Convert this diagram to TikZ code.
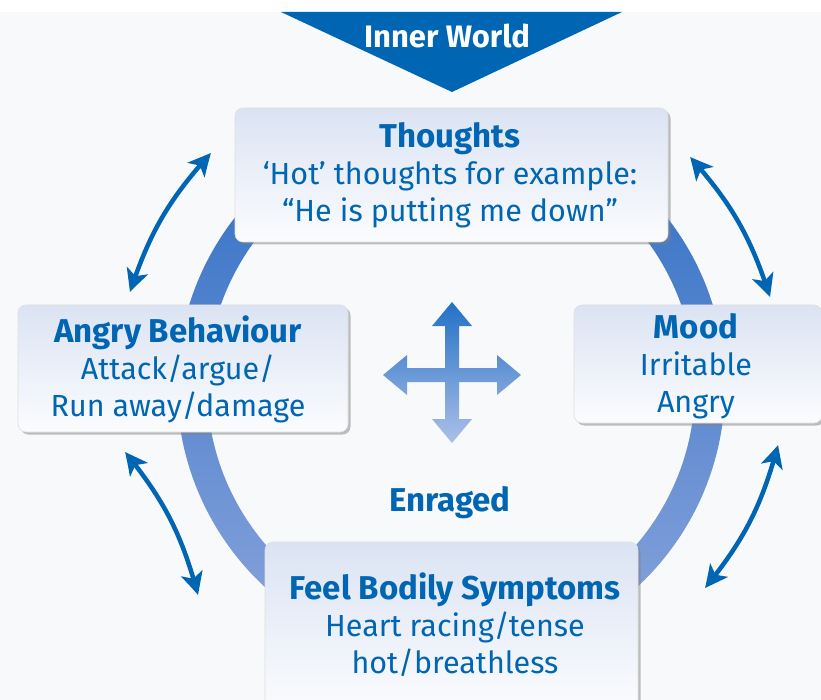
\documentclass[tikz,border=0pt]{standalone}
\usepackage{fontspec}
\setmainfont{Fira Sans}
\usetikzlibrary{shadows,arrows.meta,bending}
\definecolor{mainblue}{RGB}{0,102,179}
\definecolor{bgc}{RGB}{248,249,250}
\definecolor{boxtop}{RGB}{219,227,243}
\definecolor{boxbot}{RGB}{251,252,254}
\definecolor{ringtop}{RGB}{45,110,196}
\definecolor{ringbot}{RGB}{140,165,220}
\definecolor{crosstop}{RGB}{35,112,198}
\definecolor{crossbot}{RGB}{172,192,232}
\begin{document}
\begin{tikzpicture}[x=1pt,y=-1pt,
 card/.style={rounded corners=8pt, top color=boxtop, bottom color=boxbot, draw=gray!25, line width=0.6pt,
   drop shadow={shadow xshift=2.5pt, shadow yshift=-2.5pt, fill=black!50, opacity=0.5}},
 ttl/.style={font=\fontsize{33}{37}\selectfont\bfseries, text=mainblue},
 txt/.style={font=\fontsize{30.5}{37}\selectfont, text=mainblue, align=center},
 dbl/.style={mainblue, line width=4.5pt, {Stealth[length=23pt,width=22pt,inset=6pt,bend]}-{Stealth[length=23pt,width=22pt,inset=6pt,bend]}}
]
\useasboundingbox (0,0) rectangle (821,700);
\clip (0,0) rectangle (821,700);
\fill[white] (0,0) rectangle (821,700);
\fill[bgc] (0,12) rectangle (821,700);
% triangle
\fill[mainblue] (281,12) -- (622,12) -- (452,92) -- cycle;
\node[font=\fontsize{31}{36}\selectfont\bfseries, text=white] (inner) at (447,36) {Inner World};
% ring
\shade[top color=ringtop, bottom color=ringbot, even odd rule] (451,386) circle[radius=274pt] (451,386) circle[radius=244pt];
% centre cross
\shade[top color=crosstop, bottom color=crossbot]
 (452,302) -- (472,326) -- (459,326) -- (459,368) -- (497,368) -- (497,355) -- (521,375) -- (497,395) -- (497,382)
 -- (459,382) -- (459,419) -- (472,419) -- (452,443) -- (432,419) -- (445,419) -- (445,382) -- (407,382) -- (407,395)
 -- (383,375) -- (407,355) -- (407,368) -- (445,368) -- (445,326) -- (432,326) -- cycle;
\node[ttl] (enraged) at (450,503) {Enraged};
% boxes
\node[card, minimum width=433pt, minimum height=134pt] (thoughts) at (451.5,175) {};
\node[card, minimum width=330pt, minimum height=127pt] (behav) at (183,368.5) {};
\node[card, minimum width=248pt, minimum height=118pt] (mood) at (698,364) {};
\node[card, minimum width=373pt, minimum height=170pt] (body) at (451.5,627) {};
% texts
\node[txt] (thoughtsT) at (450,175) {{\bfseries\fontsize{33}{37}\selectfont Thoughts}\\‘Hot’ thoughts for example:\\“He is putting me down”};
\node[txt] (behavT) at (178,369.5) {{\bfseries\fontsize{33}{37}\selectfont Angry Behaviour}\\Attack/argue/\\Run away/damage};
\node[txt] (moodT) at (696,366) {{\bfseries\fontsize{33}{37}\selectfont Mood}\\Irritable\\Angry};
\node[txt] (bodyT) at (455,625) {{\bfseries\fontsize{33}{37}\selectfont Feel Bodily Symptoms}\\Heart racing/tense\\hot/breathless};
% double arrows
\coordinate (a1s) at (130,292); \coordinate (a1e) at (211,153);
\coordinate (a2s) at (690,157); \coordinate (a2e) at (770,297);
\coordinate (a3s) at (778,445); \coordinate (a3e) at (705,588);
\coordinate (a4s) at (125,452); \coordinate (a4e) at (198,595);
\draw[dbl] (a1s) to[bend left=12] (a1e);
\draw[dbl] (a2s) to[bend left=12] (a2e);
\draw[dbl] (a3s) to[bend left=12] (a3e);
\draw[dbl] (a4s) to[bend left=12] (a4e);
\end{tikzpicture}
\end{document}
